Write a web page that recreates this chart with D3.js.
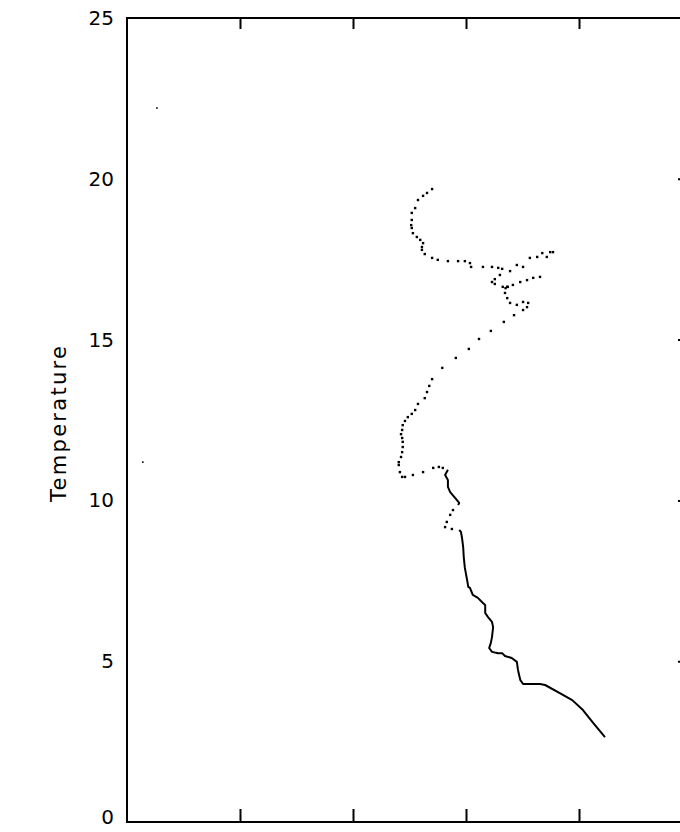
<!DOCTYPE html>
<html>
<head>
<meta charset="utf-8">
<script src="https://cdn.jsdelivr.net/npm/d3@7"></script>
<style>
  html, body { margin: 0; padding: 0; background: #fff; }
  svg { display: block; }
  text { font-family: "DejaVu Sans", "Liberation Sans", sans-serif; fill: #000; }
</style>
</head>
<body>
<svg id="chart" width="680" height="832"></svg>
<script>
// Axis definitions
const tempTicks = [0, 5, 10, 15, 20, 25];
const salTicks = [34.2, 34.4, 34.6, 34.8];
const yTitle = "Temperature";

// Deep part of the cast: dense samples drawn as a continuous trace [salinity, temperature]
const deepTrace = [
  [34.846, 2.64], [34.825, 3.08], [34.807, 3.48], [34.788, 3.79], [34.766, 4.01],
  [34.740, 4.26], [34.731, 4.29], [34.701, 4.29], [34.696, 4.42], [34.694, 4.57],
  [34.692, 4.73], [34.690, 4.98], [34.681, 5.10], [34.669, 5.16], [34.664, 5.25],
  [34.657, 5.25], [34.646, 5.29], [34.641, 5.41], [34.644, 5.57], [34.646, 5.75],
  [34.648, 6.06], [34.646, 6.22], [34.639, 6.37], [34.634, 6.50], [34.634, 6.75],
  [34.630, 6.81], [34.621, 6.97], [34.612, 7.06], [34.607, 7.28], [34.604, 7.31],
  [34.602, 7.52], [34.598, 7.90], [34.596, 8.24], [34.595, 8.55], [34.593, 8.83],
  [34.591, 9.02], [34.588, 9.08]
];

// Short continuous stretch between 9.9 and 11 degrees
const midTrace = [
  [34.586, 9.86], [34.588, 9.92], [34.581, 10.07], [34.572, 10.26], [34.568, 10.42],
  [34.568, 10.63], [34.566, 10.70], [34.563, 10.79], [34.568, 10.95]
];

// Sparse samples in the upper water column, drawn as individual dots
const sparseSamples = [
  [34.540, 19.68], [34.531, 19.56], [34.524, 19.47], [34.515, 19.34], [34.510, 19.09],
  [34.504, 18.94], [34.504, 18.72], [34.503, 18.56], [34.504, 18.47], [34.506, 18.31],
  [34.513, 18.19], [34.519, 18.10], [34.524, 18.00], [34.522, 17.88], [34.522, 17.79],
  [34.527, 17.66], [34.540, 17.54], [34.550, 17.48], [34.568, 17.44], [34.586, 17.44],
  [34.598, 17.44], [34.607, 17.38], [34.609, 17.26], [34.630, 17.26], [34.646, 17.26],
  [34.657, 17.23], [34.664, 17.20], [34.678, 17.13], [34.690, 17.32], [34.701, 17.26],
  [34.713, 17.54], [34.726, 17.57], [34.735, 17.69], [34.743, 17.57], [34.749, 17.72],
  [34.754, 17.72], [34.731, 16.95], [34.719, 16.92], [34.708, 16.85], [34.696, 16.79],
  [34.683, 16.70], [34.674, 16.64], [34.673, 16.64], [34.670, 16.60], [34.665, 16.64],
  [34.651, 16.73], [34.646, 16.79], [34.651, 16.88], [34.660, 17.01], [34.669, 16.45],
  [34.673, 16.29], [34.678, 16.14], [34.690, 16.08], [34.701, 16.17], [34.710, 16.14],
  [34.708, 16.01], [34.701, 15.92], [34.685, 15.76], [34.667, 15.55], [34.644, 15.27],
  [34.623, 15.02], [34.605, 14.71], [34.582, 14.43], [34.558, 14.12], [34.540, 13.77],
  [34.535, 13.56], [34.531, 13.37], [34.527, 13.18], [34.515, 13.00], [34.510, 12.81],
  [34.504, 12.69], [34.497, 12.59], [34.492, 12.47], [34.488, 12.34], [34.487, 12.19],
  [34.485, 12.06], [34.487, 11.94], [34.488, 11.82], [34.488, 11.66], [34.487, 11.50],
  [34.485, 11.35], [34.481, 11.19], [34.481, 11.10], [34.483, 10.88], [34.487, 10.73],
  [34.492, 10.73], [34.506, 10.79], [34.524, 10.88], [34.542, 11.01], [34.552, 11.04],
  [34.559, 11.01], [34.577, 9.70], [34.572, 9.55], [34.566, 9.33], [34.563, 9.17],
  [34.575, 9.11]
];

// Isolated outlier readings
const outliers = [[34.053, 22.20], [34.028, 11.19]];

const svg = d3.select("#chart");
const frame = { left: 127, top: 18, right: 692, bottom: 822 };

const x = d3.scaleLinear().domain([34.0, 35.0]).range([frame.left, frame.right]);
const y = d3.scaleLinear().domain([0, 25]).range([frame.bottom, frame.top]);

// Inward ticks on bottom and top edges
svg.append("g")
  .attr("transform", `translate(0,${frame.bottom})`)
  .call(d3.axisTop(x).tickValues(salTicks).tickSize(13).tickFormat(""))
  .call(g => g.select(".domain").remove())
  .selectAll("line").attr("stroke", "#000").attr("stroke-width", 2);

svg.append("g")
  .attr("transform", `translate(0,${frame.top})`)
  .call(d3.axisBottom(x).tickValues(salTicks).tickSize(11).tickFormat(""))
  .call(g => g.select(".domain").remove())
  .selectAll("line").attr("stroke", "#000").attr("stroke-width", 2);

// Right edge ticks
svg.append("g")
  .attr("transform", `translate(${frame.right},0)`)
  .call(d3.axisLeft(y).tickValues(tempTicks.slice(1, -1)).tickSize(14).tickFormat(""))
  .call(g => g.select(".domain").remove())
  .selectAll("line").attr("stroke", "#000").attr("stroke-width", 2);

// Left temperature labels
const yAxis = svg.append("g")
  .attr("transform", `translate(${frame.left},0)`)
  .call(d3.axisLeft(y).tickValues(tempTicks).tickSize(0).tickPadding(13).tickFormat(d3.format("d")));
yAxis.select(".domain").remove();
yAxis.selectAll("text")
  .style("font-family", "'DejaVu Sans', sans-serif")
  .style("font-size", "20px")
  .attr("fill", "#000")
  // keep the lowest label clear of the bottom edge
  .attr("dy", d => d === 0 ? "0.05em" : "0.32em");

// Plot frame
svg.append("rect")
  .attr("x", frame.left).attr("y", frame.top)
  .attr("width", frame.right - frame.left).attr("height", frame.bottom - frame.top)
  .attr("fill", "none").attr("stroke", "#000").attr("stroke-width", 2);

// Axis title
svg.append("text")
  .attr("transform", `translate(66,${(frame.top + frame.bottom) / 2 + 4}) rotate(-90)`)
  .attr("text-anchor", "middle")
  .attr("textLength", 156)
  .attr("lengthAdjust", "spacing")
  .style("font-size", "21px")
  .text(yTitle);

const line = d3.line().x(d => x(d[0])).y(d => y(d[1]));

[deepTrace, midTrace].forEach(seg => {
  svg.append("path")
    .datum(seg)
    .attr("d", line)
    .attr("fill", "none")
    .attr("stroke", "#000")
    .attr("stroke-width", 2)
    .attr("stroke-linejoin", "round");
});

svg.append("g").selectAll("rect")
  .data(sparseSamples)
  .join("rect")
  .attr("x", d => x(d[0]) - 1.2)
  .attr("y", d => y(d[1]) - 1.2)
  .attr("width", 2.4).attr("height", 2.4)
  .attr("fill", "#000");

svg.append("g").selectAll("rect")
  .data(outliers)
  .join("rect")
  .attr("x", d => x(d[0]) - 0.8)
  .attr("y", d => y(d[1]) - 0.8)
  .attr("width", 1.6).attr("height", 1.6)
  .attr("fill", "#000");
</script>
</body>
</html>
